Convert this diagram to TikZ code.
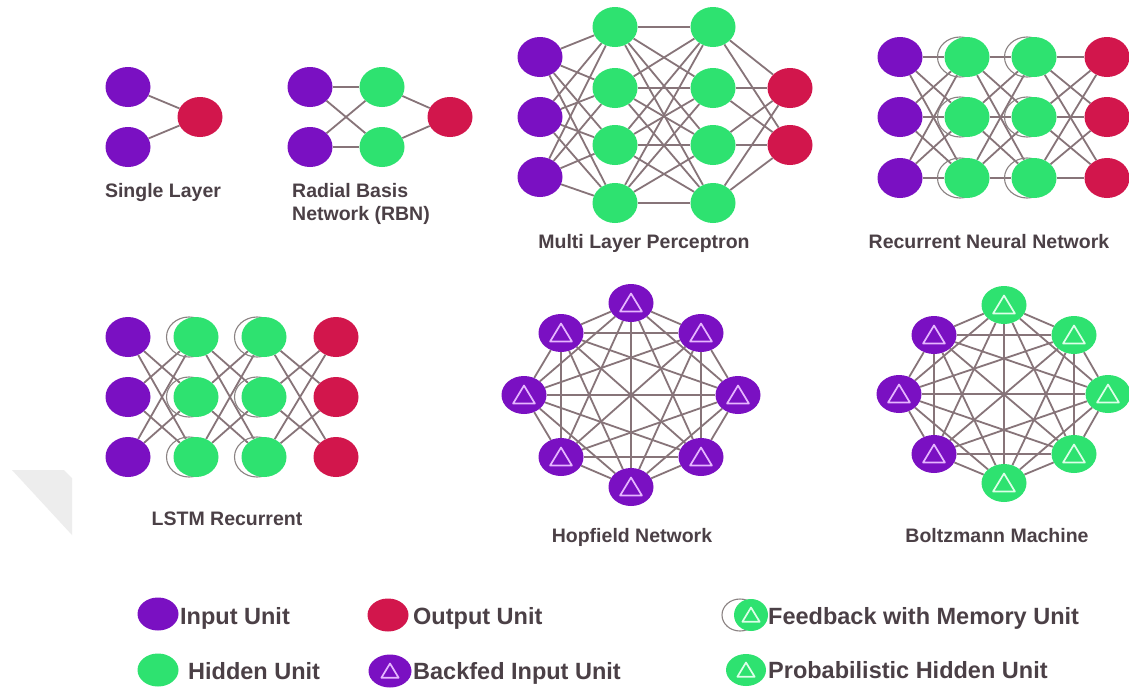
\documentclass[tikz,border=0pt]{standalone}
\usepackage{fontspec}
\setmainfont{Liberation Sans}
\usetikzlibrary{shapes.geometric}
\pgfdeclarelayer{bg}
\pgfdeclarelayer{paper}
\pgfsetlayers{paper,bg,main}
\definecolor{inpurple}{HTML}{7A10C2}
\definecolor{hidgreen}{HTML}{2EE270}
\definecolor{outred}{HTML}{D2164C}
\definecolor{edgec}{HTML}{877479}
\definecolor{txt}{HTML}{4B4046}
\definecolor{ringc}{HTML}{8A8282}
\definecolor{wm}{HTML}{EDEDED}
\definecolor{tripurple}{HTML}{E6B6FF}
\definecolor{trigreen}{HTML}{DDFFE8}
\newcommand\trimark[3]{\draw[tri,#2] ([shift={(0,-#3)}]#1.center) -- ([shift={(1.15*#3,0.9*#3)}]#1.center) -- ([shift={(-1.15*#3,0.9*#3)}]#1.center) -- cycle;}
\begin{document}
\begin{tikzpicture}[x=1pt,y=-1pt,
  unit/.style={ellipse, minimum width=45pt, minimum height=40pt, inner sep=0pt, draw=none},
  inp/.style={unit, fill=inpurple},
  hid/.style={unit, fill=hidgreen},
  outp/.style={unit, fill=outred},
  hop/.style={minimum height=38pt},
  legu/.style={minimum width=41pt, minimum height=33pt},
  link/.style={draw=edgec, line width=1.8pt},
  ringline/.style={draw=ringc, line width=1.1pt},
  tri/.style={line width=1.7pt, line join=round},
  lab/.style={font=\fontsize{19.5}{23}\selectfont\bfseries, text=txt, inner sep=0pt},
  leg/.style={font=\fontsize{23.5}{27}\selectfont\bfseries, text=txt, inner sep=0pt, anchor=base west}
]
\begin{pgfonlayer}{paper}
\fill[white] (0,0) rectangle (1129,688);
\fill[wm] (12,470) -- (64,470) -- (72,478) -- (72,535) -- cycle;
\end{pgfonlayer}
\useasboundingbox (0,0) rectangle (1129,688);

% ---------- Single Layer
\node[inp] (sl1) at (128,87) {};
\node[inp] (sl2) at (128,147) {};
\node[outp] (slo) at (200,117) {};
\node[lab, anchor=base] (slL) at (163,197) {Single Layer};

% ---------- RBN
\node[inp] (rb1) at (310,87) {};
\node[inp] (rb2) at (310,147) {};
\node[hid] (rg1) at (382,87) {};
\node[hid] (rg2) at (382,147) {};
\node[outp] (rbo) at (450,117) {};
\node[lab, anchor=base west] (rbL1) at (292,197) {Radial Basis};
\node[lab, anchor=base west] (rbL2) at (292,220) {Network (RBN)};

% ---------- MLP
\node[inp] (mp1) at (540,57) {};
\node[inp] (mp2) at (540,117) {};
\node[inp] (mp3) at (540,177) {};
\node[hid] (ma1) at (615,27) {};
\node[hid] (ma2) at (615,88) {};
\node[hid] (ma3) at (615,145) {};
\node[hid] (ma4) at (615,203) {};
\node[hid] (mb1) at (713,27) {};
\node[hid] (mb2) at (713,88) {};
\node[hid] (mb3) at (713,145) {};
\node[hid] (mb4) at (713,203) {};
\node[outp] (mo1) at (790,88) {};
\node[outp] (mo2) at (790,145) {};
\node[lab, anchor=base] (mlpL) at (644,248) {Multi Layer Perceptron};

% ---------- RNN
\foreach \i/\y in {1/57,2/117,3/178}{
  \node[inp] (np\i) at (900,\y) {};
  \node[hid] (na\i) at (967,\y) {};
  \node[hid] (nb\i) at (1034,\y) {};
  \node[outp] (no\i) at (1107,\y) {};
}
\node[lab, anchor=base] (rnnL) at (989,248) {Recurrent Neural Network};

% ---------- LSTM
\foreach \i/\y in {1/337,2/397,3/457}{
  \node[inp] (lp\i) at (128,\y) {};
  \node[hid] (la\i) at (196,\y) {};
  \node[hid] (lb\i) at (264,\y) {};
  \node[outp] (lo\i) at (336,\y) {};
}
\node[lab, anchor=base] (lstmL) at (227,525) {LSTM Recurrent};

% ---------- Hopfield
\node[inp,hop] (h1) at (631,303) {};
\node[inp,hop] (h2) at (701,333) {};
\node[inp,hop] (h3) at (738,395) {};
\node[inp,hop] (h4) at (701,457) {};
\node[inp,hop] (h5) at (631,487) {};
\node[inp,hop] (h6) at (561,457) {};
\node[inp,hop] (h7) at (524,395) {};
\node[inp,hop] (h8) at (561,333) {};
\node[lab, anchor=base] (hopL) at (632,542) {Hopfield Network};

% ---------- Boltzmann
\node[hid,hop] (b1) at (1004,305) {};
\node[hid,hop] (b2) at (1074,335) {};
\node[hid,hop] (b3) at (1108,394) {};
\node[hid,hop] (b4) at (1074,454) {};
\node[hid,hop] (b5) at (1004,483) {};
\node[inp,hop] (b6) at (934,454) {};
\node[inp,hop] (b7) at (899,394) {};
\node[inp,hop] (b8) at (934,335) {};
\node[lab, anchor=base] (bolL) at (997,542) {Boltzmann Machine};

% ---------- connectors (background)
\begin{pgfonlayer}{bg}
  \foreach \a in {sl1,sl2}{\draw[link] (\a) -- (slo);}
  \foreach \a in {rb1,rb2}{\foreach \b in {rg1,rg2}{\draw[link] (\a) -- (\b);}}
  \foreach \a in {rg1,rg2}{\draw[link] (\a) -- (rbo);}
  \foreach \a in {mp1,mp2,mp3}{\foreach \b in {ma1,ma2,ma3,ma4}{\draw[link] (\a) -- (\b);}}
  \foreach \a in {ma1,ma2,ma3,ma4}{\foreach \b in {mb1,mb2,mb3,mb4}{\draw[link] (\a) -- (\b);}}
  \foreach \a in {mb1,mb2,mb3,mb4}{\foreach \b in {mo1,mo2}{\draw[link] (\a) -- (\b);}}
  \foreach \i in {1,2,3}{\foreach \j in {1,2,3}{
    \draw[link] (np\i) -- (na\j);
    \draw[link] (na\i) -- (nb\j);
    \draw[link] (nb\i) -- (no\j);
    \ifnum\i=\j\else
      \draw[link] (lp\i) -- (la\j);
      \draw[link] (la\i) -- (lb\j);
      \draw[link] (lb\i) -- (lo\j);
    \fi
  }}
  \foreach \a [count=\i] in {h1,h2,h3,h4,h5,h6,h7,h8}{
    \foreach \b [count=\j] in {h1,h2,h3,h4,h5,h6,h7,h8}{
      \ifnum\j>\i \draw[link] (\a) -- (\b);\fi}}
  \foreach \a [count=\i] in {b1,b2,b3,b4,b5,b6,b7,b8}{
    \foreach \b [count=\j] in {b1,b2,b3,b4,b5,b6,b7,b8}{
      \ifnum\j>\i \draw[link] (\a) -- (\b);\fi}}
  % memory rings
  \foreach \n in {na1,na2,na3,nb1,nb2,nb3,la1,la2,la3,lb1,lb2,lb3}{
    \draw[ringline] ([xshift=-7pt]\n.center) ellipse [x radius=22.5, y radius=20];
  }
\end{pgfonlayer}

% triangles
\foreach \n in {h1,h2,h3,h4,h5,h6,h7,h8,b6,b7,b8}{\trimark{\n}{draw=tripurple}{9.5}}
\foreach \n in {b1,b2,b3,b4,b5}{\trimark{\n}{draw=trigreen}{9.5}}

% ---------- Legend
\node[inp,legu] (kin) at (158,614) {};
\node[leg] (kinT) at (180,624) {Input Unit};
\node[hid,legu] (khid) at (158,670) {};
\node[leg] (khidT) at (188,679) {Hidden Unit};
\node[outp,legu] (kout) at (388,615) {};
\node[leg] (koutT) at (413,624) {Output Unit};
\node[inp,legu,minimum width=43pt] (kbf) at (390,671) {};
\trimark{kbf}{draw=tripurple}{7.5}
\node[leg] (kbfT) at (413,679) {Backfed Input Unit};
\draw[ringline] (740,615) ellipse [x radius=18, y radius=16];
\node[hid,minimum width=34pt,minimum height=32pt] (kfm) at (751,615) {};
\trimark{kfm}{draw=trigreen}{7.5}
\node[leg] (kfmT) at (768,624) {Feedback with Memory Unit};
\node[hid,minimum width=40pt,minimum height=32pt] (kph) at (746,670) {};
\trimark{kph}{draw=trigreen}{7.5}
\node[leg] (kphT) at (768,678) {Probabilistic Hidden Unit};
\end{tikzpicture}
\end{document}
